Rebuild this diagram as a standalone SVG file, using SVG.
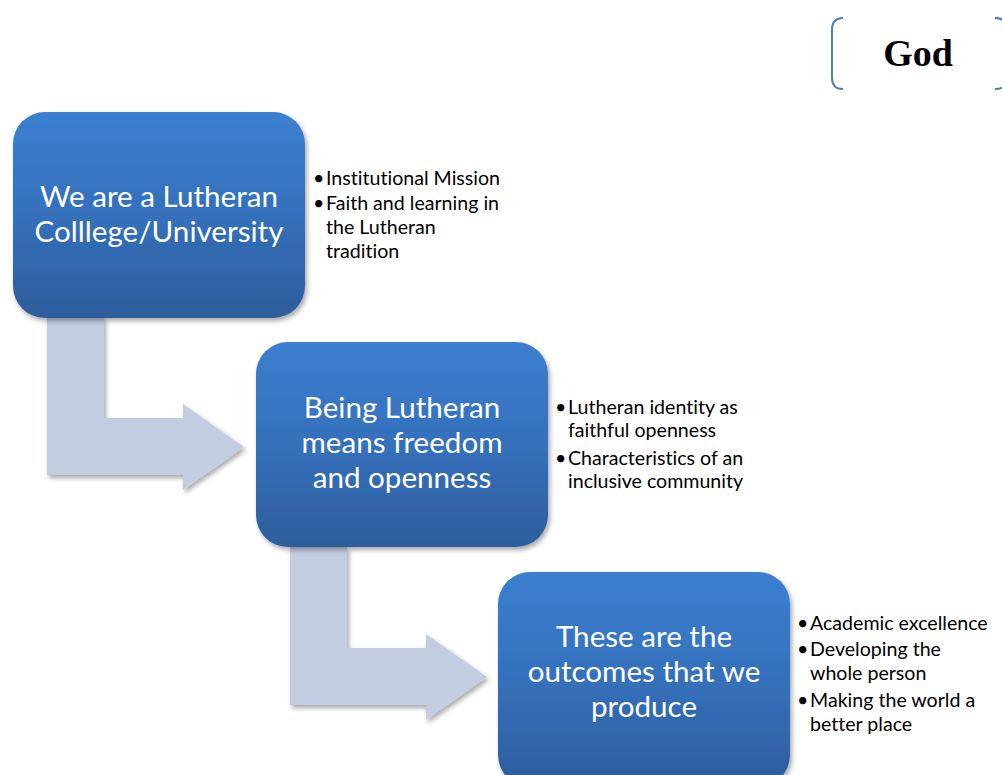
<svg xmlns="http://www.w3.org/2000/svg" width="1002" height="775" viewBox="0 0 1002 775">
<defs>
<linearGradient id="boxGrad" x1="0" y1="0" x2="0" y2="1">
<stop offset="0" stop-color="#3b7fd0"/>
<stop offset="0.5" stop-color="#3570bb"/>
<stop offset="1" stop-color="#2d5d9c"/>
</linearGradient>
<filter id="shadow" x="-10%" y="-10%" width="125%" height="125%">
<feGaussianBlur in="SourceAlpha" stdDeviation="2.5"/>
<feOffset dx="2" dy="3" result="b"/>
<feComponentTransfer><feFuncA type="linear" slope="0.35"/></feComponentTransfer>
<feMerge><feMergeNode/><feMergeNode in="SourceGraphic"/></feMerge>
</filter>
<style>
.box{fill:url(#boxGrad);filter:url(#shadow);}
.arrow{fill:#c3cde2;filter:url(#shadow);}
.ttl{font-family:Lato,"Liberation Sans",sans-serif;font-size:29.6px;fill:#ffffff;text-anchor:middle;font-variant-ligatures:none;}
.bul{font-family:Lato,"Liberation Sans",sans-serif;font-size:19.6px;fill:#000000;font-variant-ligatures:none;}
.god{font-family:"Liberation Serif",serif;font-weight:bold;font-size:38px;fill:#000000;text-anchor:middle;}
</style>
</defs>
<rect width="1002" height="775" fill="#ffffff"/>
<g id="connectors">
<path class="arrow" d="M47,317 H104 V418 H183 V404 L244,447 L183,490 V475 H47 Z"/>
<path class="arrow" d="M290,547 H347 V648 H426 V634 L487,677 L426,720 V705 H290 Z"/>
</g>
<g id="god">
<path d="M843,18 Q832,18 832,30 V78 Q832,89 843,89" fill="none" stroke="#4a7ebb" stroke-width="2"/>
<path d="M995,18 Q1007,18 1007,30 V78 Q1007,89 995,89" fill="none" stroke="#4a7ebb" stroke-width="2"/>
<text class="god" x="918" y="66">God</text>
</g>
<g id="node1">
<rect class="box" x="13" y="112" width="292" height="206" rx="32"/>
<text class="ttl" x="159" y="207">We are a Lutheran</text>
<text class="ttl" x="159" y="242">Colllege/University</text>
</g>
<g id="bullets1" class="bul">
<text x="313" y="185">•</text><text x="326" y="185">Institutional Mission</text>
<text x="313" y="210">•</text><text x="326" y="210">Faith and learning in</text>
<text x="326" y="234">the Lutheran</text>
<text x="326" y="258">tradition</text>
</g>
<g id="node2">
<rect class="box" x="256" y="342" width="292" height="205" rx="32"/>
<text class="ttl" x="402" y="418">Being Lutheran</text>
<text class="ttl" x="402" y="453">means freedom</text>
<text class="ttl" x="402" y="488">and openness</text>
</g>
<g id="bullets2" class="bul">
<text x="555" y="414">•</text><text x="568" y="414">Lutheran identity as</text>
<text x="568" y="437">faithful openness</text>
<text x="555" y="465">•</text><text x="568" y="465">Characteristics of an</text>
<text x="568" y="488">inclusive community</text>
</g>
<g id="node3">
<rect class="box" x="498" y="572" width="292" height="215" rx="32"/>
<text class="ttl" x="644" y="647">These are the</text>
<text class="ttl" x="644" y="682">outcomes that we</text>
<text class="ttl" x="644" y="717">produce</text>
</g>
<g id="bullets3" class="bul">
<text x="797" y="630">•</text><text x="810" y="630">Academic excellence</text>
<text x="797" y="656">•</text><text x="810" y="656">Developing the</text>
<text x="810" y="680">whole person</text>
<text x="797" y="707">•</text><text x="810" y="707">Making the world a</text>
<text x="810" y="731">better place</text>
</g>
</svg>
